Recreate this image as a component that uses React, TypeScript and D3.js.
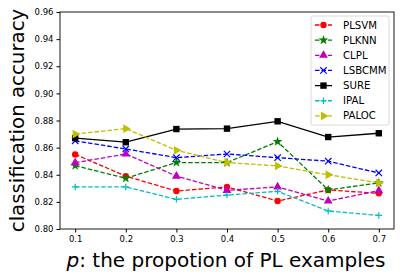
import { useRef, useEffect } from "react";
import * as d3 from "d3";

const proportions = [0.1, 0.2, 0.3, 0.4, 0.5, 0.6, 0.7];
const yTicks = [0.8, 0.82, 0.84, 0.86, 0.88, 0.9, 0.92, 0.94, 0.96];

const plsvm = [0.855, 0.839, 0.828, 0.831, 0.8206, 0.8288, 0.8263];
const plknn = [0.8467, 0.8374, 0.849, 0.849, 0.8644, 0.8288, 0.834];
const clpl = [0.8489, 0.8553, 0.839, 0.8285, 0.831, 0.8206, 0.8283];
const lsbcmm = [0.865, 0.859, 0.8526, 0.8553, 0.8526, 0.85, 0.8413];
const sure = [0.867, 0.864, 0.8737, 0.874, 0.8794, 0.8678, 0.8706];
const ipal = [0.831, 0.831, 0.8219, 0.825, 0.8278, 0.8133, 0.81];
const paloc = [0.87, 0.874, 0.858, 0.849, 0.8465, 0.84, 0.834];

type Marker = "circle" | "star" | "triUp" | "x" | "square" | "plus" | "triRight";

const series: { name: string; values: number[]; color: string; marker: Marker; dashed: boolean }[] = [
    { name: "PLSVM", values: plsvm, color: "#ff0000", marker: "circle", dashed: true },
    { name: "PLKNN", values: plknn, color: "#008000", marker: "star", dashed: true },
    { name: "CLPL", values: clpl, color: "#bf00bf", marker: "triUp", dashed: true },
    { name: "LSBCMM", values: lsbcmm, color: "#0000ff", marker: "x", dashed: true },
    { name: "SURE", values: sure, color: "#000000", marker: "square", dashed: false },
    { name: "IPAL", values: ipal, color: "#00bfbf", marker: "plus", dashed: true },
    { name: "PALOC", values: paloc, color: "#bfbf00", marker: "triRight", dashed: true },
];

function drawMarker(g: d3.Selection<SVGGElement, unknown, null, undefined>, type: Marker, cx: number, cy: number, color: string) {
    const r = 3.2;
    if (type === "circle") {
        g.append("circle").attr("cx", cx).attr("cy", cy).attr("r", r).attr("fill", color);
    } else if (type === "square") {
        g.append("rect").attr("x", cx - r).attr("y", cy - r).attr("width", 2 * r).attr("height", 2 * r).attr("fill", color);
    } else if (type === "star") {
        g.append("path").attr("d", d3.symbol(d3.symbolStar, 30)()!).attr("transform", `translate(${cx},${cy})`).attr("fill", color);
    } else if (type === "triUp" || type === "triRight") {
        g.append("path")
            .attr("d", d3.symbol(d3.symbolTriangle, 34)()!)
            .attr("transform", `translate(${cx},${cy}) rotate(${type === "triRight" ? 90 : 0})`)
            .attr("fill", color);
    } else if (type === "x") {
        g.append("path")
            .attr("d", `M${cx - r},${cy - r}L${cx + r},${cy + r}M${cx - r},${cy + r}L${cx + r},${cy - r}`)
            .attr("stroke", color).attr("stroke-width", 1.2).attr("fill", "none");
    } else if (type === "plus") {
        g.append("path")
            .attr("d", `M${cx - r},${cy}L${cx + r},${cy}M${cx},${cy - r}L${cx},${cy + r}`)
            .attr("stroke", color).attr("stroke-width", 1.2).attr("fill", "none");
    }
}

export default function App() {
    const svgRef = useRef<SVGSVGElement | null>(null);
    const width = 404;
    const height = 280;

    useEffect(() => {
        if (!svgRef.current) return;
        const svg = d3.select(svgRef.current);
        svg.selectAll("*").remove();

        const margin = { top: 12, right: 10, bottom: 51, left: 60 };
        const x = d3.scaleLinear().domain([0.07, 0.73]).range([margin.left, width - margin.right]);
        const y = d3.scaleLinear().domain([0.8, 0.96]).range([height - margin.bottom, margin.top]);
        const font = "DejaVu Sans, sans-serif";

        // lines + markers
        series.forEach(s => {
            const line = d3.line<number>().x((_, i) => x(proportions[i])).y(d => y(d));
            svg.append("path")
                .attr("d", line(s.values)!)
                .attr("fill", "none")
                .attr("stroke", s.color)
                .attr("stroke-width", 1.3)
                .attr("stroke-dasharray", s.dashed ? "4.5,2" : null);
            const mg = svg.append("g");
            s.values.forEach((v, i) => drawMarker(mg, s.marker, x(proportions[i]), y(v), s.color));
        });

        // frame
        svg.append("rect")
            .attr("x", margin.left).attr("y", margin.top)
            .attr("width", width - margin.left - margin.right)
            .attr("height", height - margin.top - margin.bottom)
            .attr("fill", "none").attr("stroke", "#000").attr("stroke-width", 0.9);

        // axes
        const xAxis = svg.append("g")
            .attr("transform", `translate(0,${height - margin.bottom})`)
            .call(d3.axisBottom(x).tickValues(proportions).tickSize(3.5).tickPadding(3).tickFormat(d3.format(".1f")));
        const yAxis = svg.append("g")
            .attr("transform", `translate(${margin.left},0)`)
            .call(d3.axisLeft(y).tickValues(yTicks).tickSize(3.5).tickPadding(3).tickFormat(d3.format(".2f")));
        [xAxis, yAxis].forEach(a => {
            a.select(".domain").remove();
            a.selectAll("text").attr("font-family", font).attr("font-size", 8.5).attr("fill", "#000");
            a.selectAll("line").attr("stroke", "#000");
        });

        // axis titles
        svg.append("text")
            .attr("transform", `translate(24,${(margin.top + height - margin.bottom) / 2}) rotate(-90)`)
            .attr("text-anchor", "middle")
            .attr("font-family", font)
            .attr("font-size", 19.8)
            .text("classification accuracy");
        const xt = svg.append("text")
            .attr("x", 226)
            .attr("y", 267)
            .attr("text-anchor", "middle")
            .attr("font-family", font)
            .attr("font-size", 20);
        xt.append("tspan").attr("font-style", "italic").text("p");
        xt.append("tspan").text(": the propotion of PL examples");

        // legend
        const lg = svg.append("g");
        lg.append("rect")
            .attr("x", 311).attr("y", 16).attr("width", 78).attr("height", 109).attr("rx", 2)
            .attr("fill", "#fff").attr("fill-opacity", 0.8).attr("stroke", "#d0d0d0").attr("stroke-width", 0.8);
        series.forEach((s, i) => {
            const cy = 25 + i * 15.15;
            lg.append("line")
                .attr("x1", 315).attr("x2", 332).attr("y1", cy).attr("y2", cy)
                .attr("stroke", s.color).attr("stroke-width", 1.3)
                .attr("stroke-dasharray", s.dashed ? "4.5,2" : null);
            drawMarker(lg, s.marker, 323.5, cy, s.color);
            lg.append("text")
                .attr("x", 343).attr("y", cy).attr("dy", "0.35em")
                .attr("font-family", font).attr("font-size", 10.2)
                .text(s.name);
        });
    }, []);

    return (
        <svg ref={svgRef} width={width} height={height} style={{ position: "absolute", left: 0, top: 0, background: "#fff" }} />
    );
}
